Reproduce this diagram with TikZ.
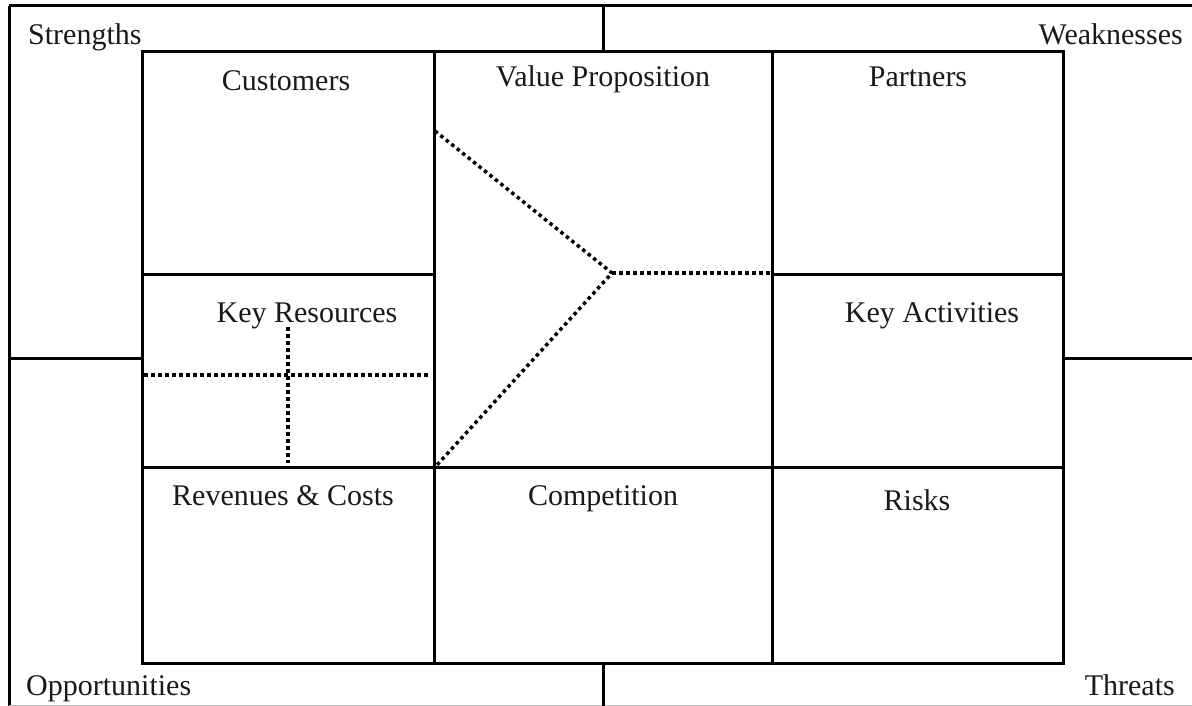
\documentclass[tikz,border=0pt]{standalone}
\usepackage{fontspec}
\setmainfont{Liberation Serif}
\begin{document}
\begin{tikzpicture}[x=1pt,y=-1pt,
  frame/.style={line width=3pt},
  cell/.style={draw,line width=3pt,rectangle,inner sep=0pt,outer sep=0pt,anchor=north west},
  dotline/.style={line width=3.5pt,dash pattern=on 3.5pt off 3.5pt},
  label/.style={inner sep=0pt,font=\fontsize{30}{36}\selectfont,text=black!90}
]
\useasboundingbox (0,0) rectangle (1192,706);

% outer SWOT frame and its cross arms
\draw[frame] (9,6) -- (1205,6);
\draw[frame] (9,6) -- (9,706);
\draw[frame,black!25,line width=1pt] (9,705) -- (1192,705);
\node[cell,minimum width=292pt,minimum height=222pt] (cust) at (142,52) {};
\node[cell,minimum width=292pt,minimum height=193pt] (keyres) at (142,274) {};
\node[cell,minimum width=292pt,minimum height=196pt] (revcost) at (142,467) {};
\node[cell,minimum width=338pt,minimum height=415pt] (valprop) at (434,52) {};
\node[cell,minimum width=338pt,minimum height=196pt] (compet) at (434,467) {};
\node[cell,minimum width=291pt,minimum height=222pt] (partn) at (772,52) {};
\node[cell,minimum width=291pt,minimum height=193pt] (keyact) at (772,274) {};
\node[cell,minimum width=291pt,minimum height=196pt] (risks) at (772,467) {};

\coordinate (topmid) at (603,6);
\coordinate (botmid) at (603,706);
\coordinate (leftmid) at (9,358);
\coordinate (rightmid) at (1192,358);
\draw[frame] (topmid) -- (valprop.north -| topmid);
\draw[frame] (compet.south -| botmid) -- (botmid);
\draw[frame] (leftmid) -- (leftmid -| keyres.west);
\draw[frame] (rightmid -| keyact.east) -- (rightmid);

% arrow-shaped split inside the value proposition
\coordinate (vpa) at (435,131);
\coordinate (vptip) at (612,273);
\coordinate (vpb) at (437,465);
\coordinate (vpc) at (770,273);
\draw[dotline] (vpa) -- (vptip) -- (vpb);
\draw[dotline] (vptip) -- (vpc);

% quadrant split inside key resources
\coordinate (kra) at (144,375);
\coordinate (krb) at (430,375);
\coordinate (krc) at (288,327);
\coordinate (krd) at (288,463);
\draw[dotline] (kra) -- (krb);
\draw[dotline] (krc) -- (krd);

% corner labels
\node[label,anchor=base west] (lstr) at (28,45) {Strengths};
\node[label,anchor=base east] (lweak) at (1183,45) {Weaknesses};
\node[label,anchor=base west] (lopp) at (26,695) {Opportunities};
\node[label,anchor=base east] (lthr) at (1175,695) {Threats};

% cell titles
\node[label,anchor=base] (tcust) at (286,91) {Customers};
\node[label,anchor=base] (tvp) at (603,87) {Value Proposition};
\node[label,anchor=base] (tpart) at (918,87) {Partners};
\node[label,anchor=base] (tkr) at (307,322) {Key Resources};
\node[label,anchor=base] (tka) at (932,322) {Key Activities};
\node[label,anchor=base] (trc) at (283,505) {Revenues \& Costs};
\node[label,anchor=base] (tcomp) at (603,505) {Competition};
\node[label,anchor=base] (trisk) at (917,510) {Risks};
\end{tikzpicture}
\end{document}
